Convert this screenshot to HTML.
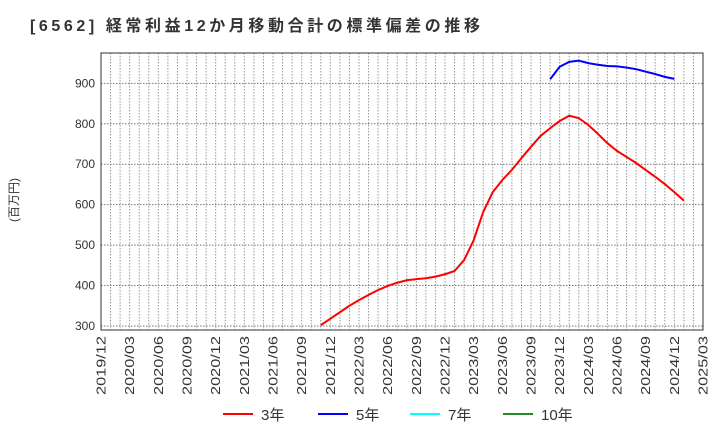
<!DOCTYPE html>
<html><head><meta charset="utf-8"><style>
body{margin:0;background:#fff;}
svg{display:block;font-family:"Liberation Sans","Noto Sans CJK JP",sans-serif;}
</style></head><body>
<svg id="chart" width="720" height="440">
<text x="30" y="31" font-size="16" font-weight="bold" fill="#333" textLength="450" lengthAdjust="spacing">[6562]  経常利益12か月移動合計の標準偏差の推移</text>
<text transform="translate(18,200) rotate(-90)" text-anchor="middle" font-size="12" fill="#333">(百万円)</text>
<g id="grid"></g><g id="series"></g>
<rect x="101" y="53" width="602" height="277" fill="none" stroke="#333" stroke-width="1"/>
<g id="legend"></g>
</svg>
<script>
const yTicks=[300,400,500,600,700,800,900];
const startMonth=0; // 2019/12
const xTickLabels=["2019/12","2020/03","2020/06","2020/09","2020/12","2021/03","2021/06","2021/09","2021/12","2022/03","2022/06","2022/09","2022/12","2023/03","2023/06","2023/09","2023/12","2024/03","2024/06","2024/09","2024/12","2025/03"];
const red3Start=23;
const red3=[302,318,334,350,364,377,389,399,407,413,416,418,422,428,436,463,512,582,631,661,686,715,743,770,789,807,820,814,797,775,752,733,718,703,686,669,651,631,610];
const blue5Start=47;
const blue5=[910,941,953,956,950,946,943,942,939,935,929,923,916,911];
const legendLabels=["3年","5年","7年","10年"];
const legendColors=["#ff0000","#0000ff","#00ffff","#228b22"];
const NS="http://www.w3.org/2000/svg";
const X0=101,X1=703,Y0=330,Y1=53,M=63,VMIN=290.1,VMAX=975;
const xs=m=>X0+(m)*(X1-X0)/M;
const ys=v=>Y0-(v-VMIN)*(Y0-Y1)/(VMAX-VMIN);
function mk(t,a,p){const e=document.createElementNS(NS,t);for(const k in a)e.setAttribute(k,a[k]);p.appendChild(e);return e;}
const grid=document.getElementById('grid');
for(let m=1;m<M;m++){const l=mk('line',{x1:xs(m),x2:xs(m),y1:Y1,y2:Y0,stroke:'#999','stroke-dasharray':'1.5,1.5','stroke-width':1},grid);

}
yTicks.forEach(v=>{const l=mk('line',{x1:X0,x2:X1,y1:ys(v),y2:ys(v),stroke:'#777','stroke-dasharray':'1.5,1.5','stroke-width':1},grid);


const t=mk('text',{x:X0-6,y:ys(v)+4,'text-anchor':'end','font-size':12,fill:'#333'},grid);t.textContent=v;

});
xTickLabels.forEach((s,i)=>{const x=xs(i*3);const t=mk('text',{transform:`translate(${x+4.5},336) rotate(-90)`,'text-anchor':'end','font-size':12.5,fill:'#333',textLength:59,lengthAdjust:'spacingAndGlyphs'},grid);t.textContent=s;

});
const ser=document.getElementById('series');
function line(data,start,color,name){const p=mk('polyline',{points:data.map((v,i)=>xs(start+i)+','+ys(v)).join(' '),fill:'none',stroke:color,'stroke-width':2},ser);

}
line(red3,red3Start,'#ff0000','series-3y');
line(blue5,blue5Start,'#0000ff','series-5y');
const lg=document.getElementById('legend');
const lx=[223,318,410,503];
legendLabels.forEach((s,i)=>{const g=mk('g',{},lg);


mk('line',{x1:lx[i],x2:lx[i]+30,y1:414,y2:414,stroke:legendColors[i],'stroke-width':2},g);
const t=mk('text',{x:lx[i]+38,y:420,'font-size':15,fill:'#333'},g);t.textContent=s;});
</script>
</body></html>
